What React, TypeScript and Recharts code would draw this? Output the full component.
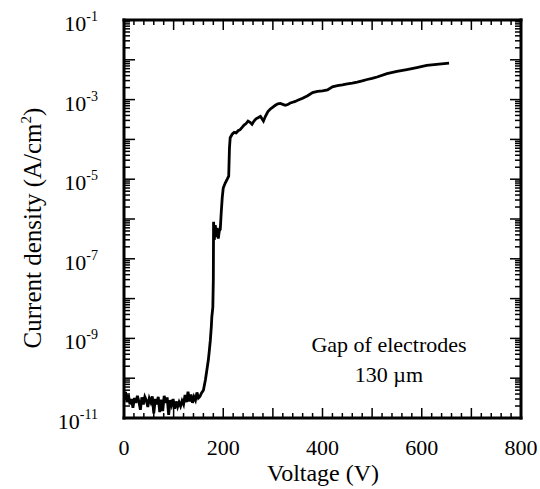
import React from 'react';
import { LineChart, Line, XAxis, YAxis, Customized } from 'recharts';

const voltage = [
  0, 3, 6, 9, 12, 15, 18, 21, 24, 27, 30, 33, 36, 39, 42, 45, 48, 51, 54, 57,
  60, 63, 66, 69, 72, 75, 78, 81, 84, 87, 90, 93, 96, 99, 102, 105, 108, 111, 114, 117,
  120, 123, 126, 129, 132, 135, 138, 141, 144, 147, 150,
  153, 156, 160, 164, 167, 170, 172, 174, 176, 177, 179, 180, 180.5, 182, 184, 186, 188, 190, 192,
  194, 196, 198, 200, 204, 208, 211, 212.5, 214, 218, 222, 226, 230, 234, 238, 242, 246, 250,
  254, 258, 262, 266, 270, 275, 278, 281, 285, 290, 295, 300, 305, 310, 315, 320, 325, 330,
  335, 340, 345, 350, 360, 370, 380, 390, 400, 410, 420, 430, 440, 450, 460, 470, 480, 490,
  500, 510, 530, 550, 570, 590, 610, 630, 645, 655,
];

const currentDensity = [
  3.5e-11, 4.5e-11, 2.5e-11, 3.8e-11, 2.2e-11, 3.0e-11, 1.8e-11, 3.2e-11, 2.4e-11, 3.6e-11,
  2.6e-11, 1.6e-11, 3.3e-11, 2.2e-11, 3.4e-11, 2.8e-11, 1.9e-11, 3.1e-11, 2.5e-11, 3.5e-11,
  1.3e-11, 3.0e-11, 2.2e-11, 3.4e-11, 1.4e-11, 2.9e-11, 1.5e-11, 3.6e-11, 2.4e-11, 3.3e-11,
  1.2e-11, 2.8e-11, 2.1e-11, 3.0e-11, 1.7e-11, 2.6e-11, 1.9e-11, 2.5e-11, 2.0e-11, 2.7e-11,
  2.2e-11, 3.8e-11, 2.5e-11, 4.6e-11, 2.6e-11, 3.9e-11, 2.4e-11, 3.4e-11, 2.8e-11, 4.4e-11, 3.2e-11,
  3.5e-11, 4.2e-11, 5e-11, 9e-11, 1.6e-10, 2.9e-10, 5e-10, 9e-10, 2e-9, 3.5e-9, 6e-9, 3e-8, 8.5e-7,
  3e-7, 7e-7, 3.5e-7, 6e-7, 3.2e-7, 5e-7,
  5.5e-7, 1.5e-6, 3.5e-6, 6e-6, 8e-6, 1e-5, 1.2e-5, 6e-5, 1.1e-4, 1.35e-4, 1.5e-4, 1.45e-4,
  1.65e-4, 1.75e-4, 2.0e-4, 2.3e-4, 2.5e-4, 2.9e-4,
  2.7e-4, 2.4e-4, 2.9e-4, 3.3e-4, 3.5e-4, 3.8e-4, 3.3e-4, 2.9e-4, 3.8e-4, 5.0e-4, 5.8e-4, 6.5e-4,
  7.2e-4, 7.8e-4, 8.0e-4, 7.6e-4, 7.2e-4, 7.5e-4,
  8.2e-4, 8.6e-4, 9.0e-4, 9.6e-4, 1.08e-3, 1.25e-3, 1.5e-3, 1.6e-3, 1.65e-3, 1.75e-3, 2.1e-3,
  2.25e-3, 2.35e-3, 2.5e-3, 2.6e-3, 2.75e-3, 2.95e-3, 3.2e-3,
  3.4e-3, 3.7e-3, 4.5e-3, 5.1e-3, 5.7e-3, 6.4e-3, 7.2e-3, 7.7e-3, 8.0e-3, 8.2e-3,
];

const xTicks: number[] = [];
for (let v = 0; v <= 800; v += 20) xTicks.push(v);
const xLabelTicks = [0, 200, 400, 600, 800];

const decades = [-11, -10, -9, -8, -7, -6, -5, -4, -3, -2];
const yLabelExponents = [-11, -9, -7, -5, -3, -1];
const yTicks: number[] = [];
decades.forEach((d) => {
  for (let m = 1; m <= 9; m++) yTicks.push(Number(`${m}e${d}`));
});
yTicks.push(1e-1);

const data = voltage.map((v, i) => ({ v, j: currentDensity[i] }));

const FONT = '"Liberation Serif", "Times New Roman", Times, serif';

const isMajorY = (val: number) => {
  const e = Math.round(Math.log10(val));
  return Math.abs(val - Math.pow(10, e)) / val < 1e-6;
};

const BottomTick = (props: any) => {
  const { x, y, payload } = props;
  const v = payload.value;
  const len = v % 100 === 0 ? 10 : 5;
  return (
    <g>
      <line x1={x} y1={y} x2={x} y2={y - len} stroke="#000" strokeWidth={1.5} />
      {xLabelTicks.includes(v) && (
        <text x={x} y={y + 37} textAnchor="middle" fontSize={22} fontFamily={FONT} fill="#000">
          {v}
        </text>
      )}
    </g>
  );
};

const TopTick = (props: any) => {
  const { x, y, payload } = props;
  const len = payload.value % 100 === 0 ? 10 : 5;
  return <line x1={x} y1={y} x2={x} y2={y + len} stroke="#000" strokeWidth={1.5} />;
};

const LeftTick = (props: any) => {
  const { x, y, payload } = props;
  const val = payload.value;
  const major = isMajorY(val);
  const e = Math.round(Math.log10(val));
  const len = major ? 11 : 6;
  return (
    <g>
      <line x1={x} y1={y} x2={x + len} y2={y} stroke="#000" strokeWidth={1.5} />
      {major && yLabelExponents.includes(e) && (
        <text x={x - 26} y={y + 11} textAnchor="end" fontSize={22} fontFamily={FONT} fill="#000">
          10
          <tspan dy={-10} fontSize={14}>{`${e}`}</tspan>
        </text>
      )}
    </g>
  );
};

const RightTick = (props: any) => {
  const { x, y, payload } = props;
  const len = isMajorY(payload.value) ? 11 : 6;
  return <line x1={x} y1={y} x2={x - len} y2={y} stroke="#000" strokeWidth={1.5} />;
};

const axisLineStyle = { stroke: '#000', strokeWidth: 3, strokeLinecap: 'square' as const };

const Annotations = () => (
  <g fontFamily={FONT} fill="#000">
    <text x={389} y={352} textAnchor="middle" fontSize={22}>Gap of electrodes</text>
    <text x={389} y={382} textAnchor="middle" fontSize={22}>130 µm</text>
    <text x={323} y={481} textAnchor="middle" fontSize={24}>Voltage (V)</text>
    <text x={41} y={228} textAnchor="middle" fontSize={25} transform="rotate(-90, 41, 228)">
      Current density (A/cm<tspan dy={-10} fontSize={15}>2</tspan>
      <tspan dy={10}>)</tspan>
    </text>
  </g>
);

export default function App() {
  return (
    <div style={{ position: 'absolute', left: 0, top: 0, background: '#fff' }}>
      <LineChart width={540} height={489} data={data} margin={{ top: 19, right: 18, bottom: 0, left: 0 }}>
        <XAxis
          dataKey="v"
          type="number"
          domain={[0, 800]}
          ticks={xTicks}
          interval={0}
          allowDataOverflow
          height={71}
          tickSize={0}
          tickMargin={0}
          tickLine={false}
          axisLine={axisLineStyle}
          tick={<BottomTick />}
        />
        <XAxis
          xAxisId="top"
          dataKey="v"
          orientation="top"
          type="number"
          domain={[0, 800]}
          ticks={xTicks}
          interval={0}
          allowDataOverflow
          height={1}
          tickSize={0}
          tickMargin={0}
          tickLine={false}
          axisLine={axisLineStyle}
          tick={<TopTick />}
        />
        <YAxis
          type="number"
          scale="log"
          domain={[1e-11, 1e-1]}
          ticks={yTicks}
          interval={0}
          allowDataOverflow
          width={124}
          tickSize={0}
          tickMargin={0}
          tickLine={false}
          axisLine={axisLineStyle}
          tick={<LeftTick />}
        />
        <YAxis
          yAxisId="right"
          orientation="right"
          type="number"
          scale="log"
          domain={[1e-11, 1e-1]}
          ticks={yTicks}
          interval={0}
          allowDataOverflow
          width={1}
          tickSize={0}
          tickMargin={0}
          tickLine={false}
          axisLine={axisLineStyle}
          tick={<RightTick />}
        />
        <Line
          xAxisId="top"
          yAxisId="right"
          dataKey="j"
          type="linear"
          stroke="none"
          strokeWidth={0}
          dot={false}
          activeDot={false}
          legendType="none"
          isAnimationActive={false}
        />
        <Line
          dataKey="j"
          type="linear"
          stroke="#000"
          strokeWidth={2.8}
          dot={false}
          isAnimationActive={false}
        />
        <Customized component={Annotations} />
      </LineChart>
    </div>
  );
}
